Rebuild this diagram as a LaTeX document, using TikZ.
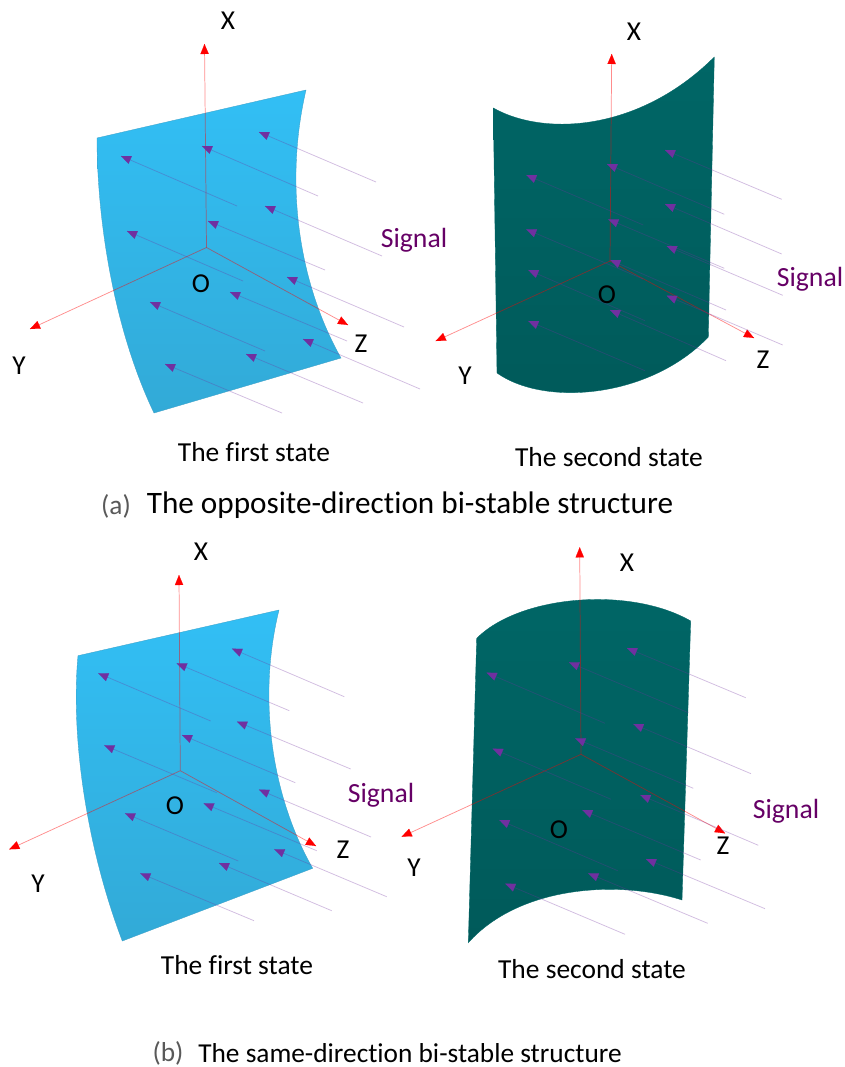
\documentclass[tikz,border=0pt]{standalone}
\usepackage{fontspec}
\setmainfont[Ligatures=NoCommon]{Carlito}
\usetikzlibrary{arrows.meta,calc}
\definecolor{sigpurple}{HTML}{7030A0}
\definecolor{sigtext}{HTML}{660066}
\definecolor{capgray}{HTML}{595959}
\tikzset{
  bluesurf/.style={top color=blue1,bottom color=blue2,draw=blue3,line width=0.25pt},
  tealsurf/.style={top color=teal1,bottom color=teal2,draw=teal1,line width=0.25pt},
  axisline/.style={draw=red,line width=0.55pt,opacity=0.45},
  axishead/.style={draw=red,line width=0.1pt,-{Triangle[length=7.5pt,width=6.2pt,fill=red]}},
  sigline/.style={draw=sigpurple,line width=0.55pt,opacity=0.32},
  sighead/.style={draw=sigpurple,line width=0.1pt,-{Triangle[length=7.5pt,width=6.2pt,fill=sigpurple]}},
  lab/.style={inner sep=0pt,font=\fontsize{20.5}{24}\selectfont,text=black},
  siglab/.style={inner sep=0pt,font=\fontsize{20.8}{24}\selectfont,text=sigtext},
  statelab/.style={inner sep=0pt,font=\fontsize{20.6}{24}\selectfont,text=black},
  capmark/.style={inner sep=0pt,font=\fontsize{20.5}{24}\selectfont,text=capgray},
}
\definecolor{blue1}{RGB}{50,191,245}
\definecolor{blue2}{RGB}{50,170,215}
\definecolor{blue3}{RGB}{60,160,200}
\definecolor{teal1}{RGB}{0,102,102}
\definecolor{teal2}{RGB}{0,90,90}
% axes: origin / X tip / Y tip / Z tip
\newcommand{\threeaxes}[8]{%
  \coordinate (ax-o) at (#1,#2);
  \coordinate (ax-x) at (#3,#4);
  \coordinate (ax-y) at (#5,#6);
  \coordinate (ax-z) at (#7,#8);
  \foreach \tip in {ax-x,ax-y,ax-z}{
    \draw[axisline] (ax-o) -- (\tip);
    \draw[axishead] ($(\tip)!7.5pt!(ax-o)$) -- (\tip);
  }%
}
\newcommand{\signals}[1]{%
  \foreach \hx/\hy/\tx/\ty in {#1}{
    \coordinate (sg-h) at (\hx,\hy);
    \coordinate (sg-t) at (\tx,\ty);
    \draw[sigline] (sg-t) -- (sg-h);
    \draw[sighead] ($(sg-h)!7.5pt!(sg-t)$) -- (sg-h);
  }%
}
\begin{document}
\begin{tikzpicture}[x=0.75pt,y=-0.75pt]
\useasboundingbox (0,0) rectangle (845,1067);
\fill[white] (0,0) rectangle (845,1067);

% ---------- panel A, first state
\shade[bluesurf] (97,138) -- (306,90)
  .. controls (285,180) and (297,280) .. (341,358)
  -- (154,413)
  .. controls (112,325) and (97,215) .. cycle;
\threeaxes{206.5}{247.5}{204.5}{44}{30}{329}{348}{325}
\signals{259/132/376/182,202/146/318/196,121/156/237/206,265/206/382/256,208/221/325/270,127/231/243/281,287/277/404/327,230/292/347/341,150/302/265/351,303/339/420/389,246/354/363/403,165/364/282/413}
\node[lab] (a-x) at (228,21) {X};
\node[lab] (a-o) at (201,284) {O};
\node[lab] (a-y) at (19,366) {Y};
\node[lab] (a-z) at (361,344) {Z};
\node[siglab] (a-s) at (414,240) {Signal};
\node[statelab] (a-t) at (254,452) {The first state};

% ---------- panel B, second state
\shade[tealsurf] (493.3,108)
  .. controls (545,137) and (640,131) .. (714.3,57)
  -- (708.3,337)
  .. controls (650,398) and (545,407) .. (497,373)
  -- cycle;
\threeaxes{610}{261}{611.7}{54}{435.7}{341}{754}{338}
\signals{665/150/781.7/199.3,607/164/724.3/214.3,526.3/175/643.3/225,665/204/781.7/254,608.3/219.3/724.3/268.3,526.3/229.3/643/279,666.7/246/782.7/295.3,610.3/260/726/310,528.3/270/645/320.7,666.7/295.7/782.7/345,610/310/726/360.7,528.3/321/645/370.7}
\node[lab] (b-x) at (634,32) {X};
\node[lab] (b-o) at (607,295) {O};
\node[lab] (b-y) at (465,376) {Y};
\node[lab] (b-z) at (763,360) {Z};
\node[siglab] (b-s) at (810,279) {Signal};
\node[statelab] (b-t) at (609,457) {The second state};

% ---------- caption (a)
\node[capmark] (cap-am) at (116,506) {(a)};
\node[inner sep=0pt,font=\fontsize{23.4}{28}\selectfont] (cap-a) at (410,505) {The opposite-direction bi-stable structure};

% ---------- panel C, first state
\shade[bluesurf] (78,655.7) -- (279,610)
  .. controls (259,690) and (268,790) .. (312.7,868.3)
  -- (122.3,941)
  .. controls (84,840) and (71,730) .. cycle;
\threeaxes{180.3}{770.7}{179}{575}{9.3}{849.3}{316}{846}
\signals{232/648.7/344.3/696.7,176.7/663.3/289.3/710.7,98.3/673.3/210.7/721,237/721.7/350.7/769,182/735/295.3/782.7,104.3/745.3/216.7/792.7,259/789.7/371/837,203.7/803.3/316.7/850.7,125/813.3/238.3/861,274.3/849.3/386.7/896.7,219/863/331.7/910.7,140.3/873.3/254/920.7}
\node[lab] (c-x) at (201,552) {X};
\node[lab] (c-o) at (175,806) {O};
\node[lab] (c-y) at (38,884) {Y};
\node[lab] (c-z) at (343,850) {Z};
\node[siglab] (c-s) at (381,795) {Signal};
\node[statelab] (c-t) at (237,965) {The first state};

% ---------- panel D, second state
\shade[tealsurf] (476.7,638.3)
  .. controls (520,595) and (630,586) .. (690.7,621)
  -- (682,900)
  .. controls (620,880) and (520,885) .. (468.3,942.7)
  -- cycle;
\threeaxes{581}{754.3}{579.7}{547.3}{401.7}{836.7}{725}{833.3}
\signals{627/648/745.7/697.7,569/662.3/688.3/712.7,486.7/672.7/605/723.3,633.3/724/751/773.7,575.3/738.3/693.3/788.3,492.7/748.7/611/799.3,640.3/795/758.3/845.3,582.3/810/700.7/860,499.3/820/617.7/870.7,646/859/765/908.7,588.3/873.3/707.7/923.3,505.3/883.7/625/934.3}
\node[lab] (d-x) at (627,563) {X};
\node[lab] (d-o) at (559,830) {O};
\node[lab] (d-y) at (414,868) {Y};
\node[lab] (d-z) at (723,846) {Z};
\node[siglab] (d-s) at (786,811) {Signal};
\node[statelab] (d-t) at (592,969) {The second state};

% ---------- caption (b)
\node[capmark] (cap-bm) at (168,1053) {(b)};
\node[inner sep=0pt,font=\fontsize{20.5}{24}\selectfont] (cap-b) at (410,1053) {The same-direction bi-stable structure};
\end{tikzpicture}
\end{document}
